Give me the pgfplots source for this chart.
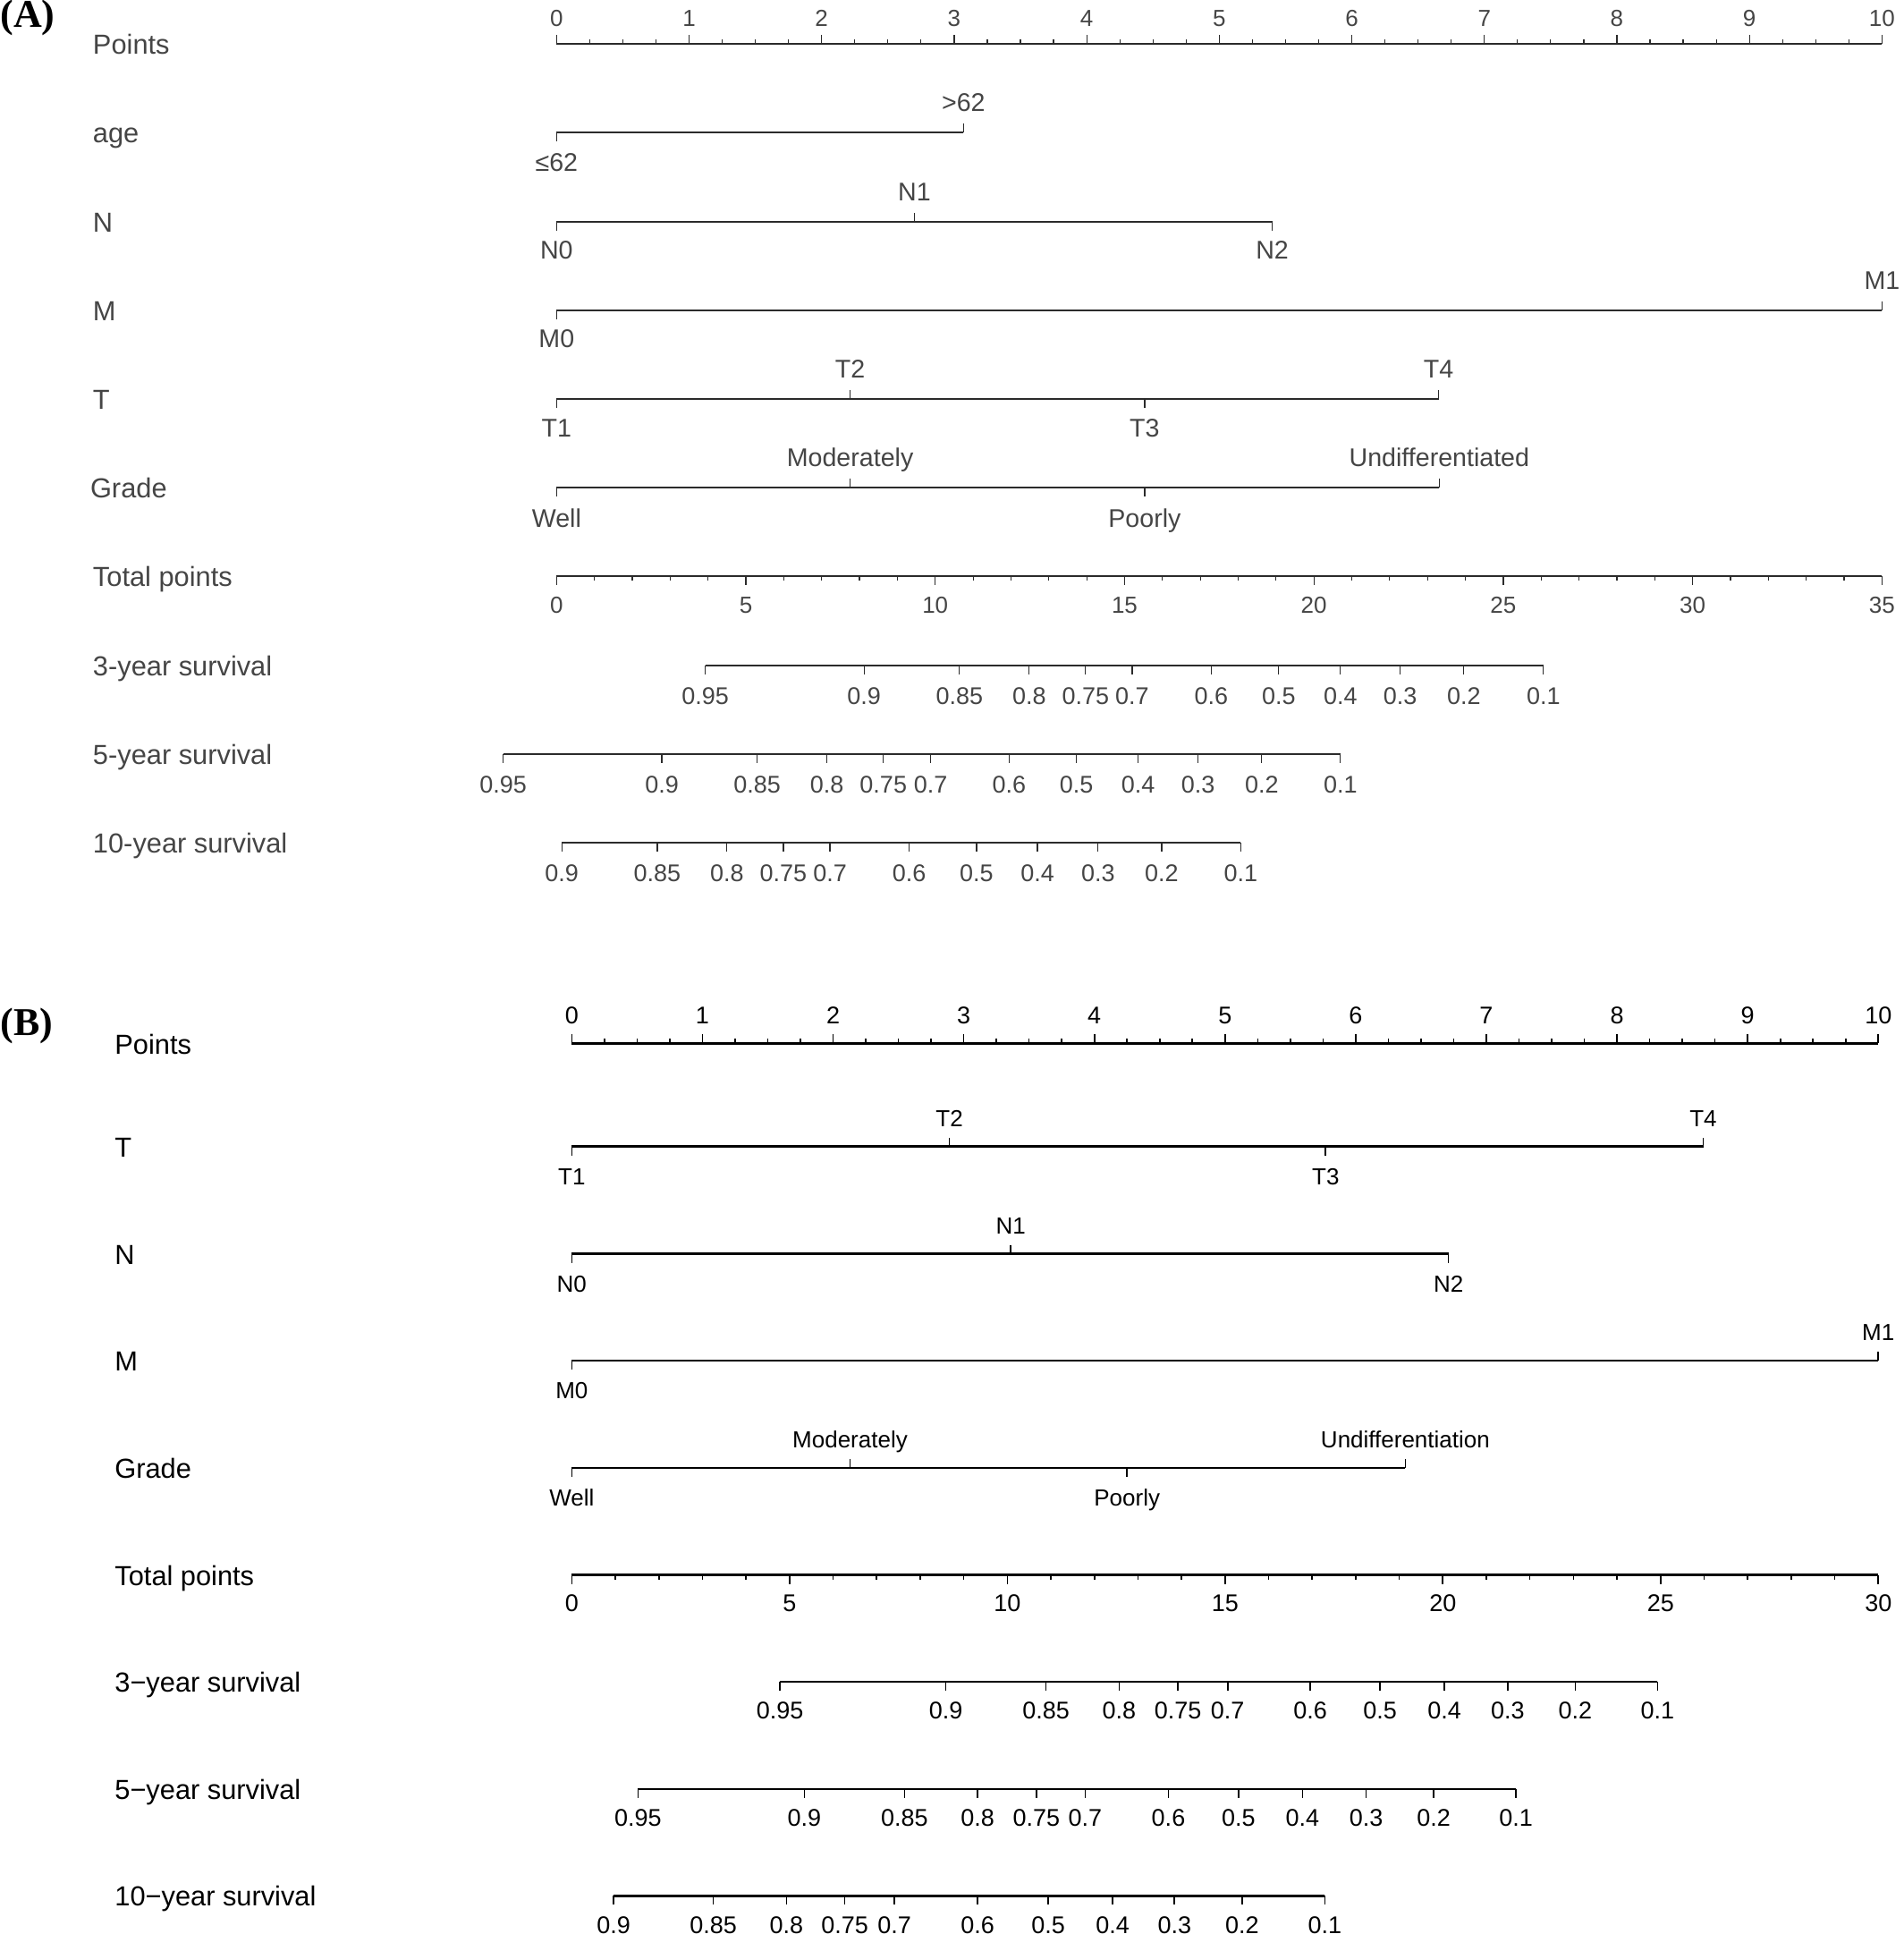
\documentclass[border=0pt]{standalone}
\usepackage{pgfplots}
\pgfplotsset{compat=1.18}
\usepackage{pgfplotstable}
\usepackage{fontspec}
\setmainfont{Liberation Sans}
\newfontfamily\serifbold{Liberation Serif}

\definecolor{atext}{HTML}{454545}
\definecolor{aline}{HTML}{2B2B2B}

% ---------- shared: minor ticks of the Points scale ----------
\pgfplotstableread{
x v
0.25 5
0.5 5
0.75 5
1.25 5
1.5 5
1.75 5
2.25 5
2.5 5
2.75 5
3.25 5
3.5 5
3.75 5
4.25 5
4.5 5
4.75 5
5.25 5
5.5 5
5.75 5
6.25 5
6.5 5
6.75 5
7.25 5
7.5 5
7.75 5
8.25 5
8.5 5
8.75 5
9.25 5
9.5 5
9.75 5
}\PtsMinor

% ---------- Panel A ----------
\pgfplotstableread{
x v dy lab
0 10 20 0
1 10 20 1
2 10 20 2
3 10 20 3
4 10 20 4
5 10 20 5
6 10 20 6
7 10 20 7
8 10 20 8
9 10 20 9
10 10 20 10
}\APts
\pgfplotstableread{
x v dy lab
0 -10 -43 ≤62
3.07 10 23.5 >62
}\AAge
\pgfplotstableread{
x v dy lab
0 -10 -42 N0
2.70 10 23.5 N1
5.40 -10 -42 N2
}\AN
\pgfplotstableread{
x v dy lab
0 -10 -42 M0
10 10 23.5 M1
}\AM
\pgfplotstableread{
x v dy lab
0 -10 -42 T1
2.215 10 23.5 T2
4.437 -10 -42 T3
6.655 10 23.5 T4
}\AT
\pgfplotstableread{
x v dy lab
0 -10 -44 Well
2.215 10 23.5 Moderately
4.437 -10 -44 Poorly
6.66 10 23.5 Undifferentiated
}\AGrade
\pgfplotstableread{
x v dy lab
0 -10 -41.5 0
5 -10 -41.5 5
10 -10 -41.5 10
15 -10 -41.5 15
20 -10 -41.5 20
25 -10 -41.5 25
30 -10 -41.5 30
35 -10 -41.5 35
}\ATot
\pgfplotstableread{
x v
1 -5
2 -5
3 -5
4 -5
6 -5
7 -5
8 -5
9 -5
11 -5
12 -5
13 -5
14 -5
16 -5
17 -5
18 -5
19 -5
21 -5
22 -5
23 -5
24 -5
26 -5
27 -5
28 -5
29 -5
31 -5
32 -5
33 -5
34 -5
}\ATotMinor
\pgfplotstableread{
x v dy lab
3.93 -10 -43.5 0.95
8.12 -10 -43.5 0.9
10.64 -10 -43.5 0.85
12.48 -10 -43.5 0.8
13.97 -10 -43.5 0.75
15.20 -10 -43.5 0.7
17.29 -10 -43.5 0.6
19.07 -10 -43.5 0.5
20.70 -10 -43.5 0.4
22.28 -10 -43.5 0.3
23.96 -10 -43.5 0.2
26.06 -10 -43.5 0.1
}\AThree
\pgfplotstableread{
x v dy lab
-1.41 -10 -43.5 0.95
2.78 -10 -43.5 0.9
5.30 -10 -43.5 0.85
7.14 -10 -43.5 0.8
8.63 -10 -43.5 0.75
9.88 -10 -43.5 0.7
11.95 -10 -43.5 0.6
13.73 -10 -43.5 0.5
15.36 -10 -43.5 0.4
16.94 -10 -43.5 0.3
18.62 -10 -43.5 0.2
20.70 -10 -43.5 0.1
}\AFive
\pgfplotstableread{
x v dy lab
0.14 -10 -43.5 0.9
2.66 -10 -43.5 0.85
4.50 -10 -43.5 0.8
5.99 -10 -43.5 0.75
7.22 -10 -43.5 0.7
9.31 -10 -43.5 0.6
11.09 -10 -43.5 0.5
12.70 -10 -43.5 0.4
14.30 -10 -43.5 0.3
15.98 -10 -43.5 0.2
18.07 -10 -43.5 0.1
}\ATen

% ---------- Panel B ----------
\pgfplotstableread{
x v dy lab
0 10 21.5 0
1 10 21.5 1
2 10 21.5 2
3 10 21.5 3
4 10 21.5 4
5 10 21.5 5
6 10 21.5 6
7 10 21.5 7
8 10 21.5 8
9 10 21.5 9
10 10 21.5 10
}\BPts
\pgfplotstableread{
x v dy lab
0 -10 -43 T1
2.89 10 22 T2
5.77 -10 -43 T3
8.66 10 22 T4
}\BT
\pgfplotstableread{
x v dy lab
0 -10 -43 N0
3.36 10 22 N1
6.71 -10 -43 N2
}\BN
\pgfplotstableread{
x v dy lab
0 -10 -43 M0
10 10 22 M1
}\BM
\pgfplotstableread{
x v dy lab
0 -10 -43 Well
2.13 10 22 Moderately
4.25 -10 -43 Poorly
6.38 10 22 Undifferentiation
}\BGrade
\pgfplotstableread{
x v dy lab
0 -10 -40.5 0
5 -10 -40.5 5
10 -10 -40.5 10
15 -10 -40.5 15
20 -10 -40.5 20
25 -10 -40.5 25
30 -10 -40.5 30
}\BTot
\pgfplotstableread{
x v
1 -5
2 -5
3 -5
4 -5
6 -5
7 -5
8 -5
9 -5
11 -5
12 -5
13 -5
14 -5
16 -5
17 -5
18 -5
19 -5
21 -5
22 -5
23 -5
24 -5
26 -5
27 -5
28 -5
29 -5
}\BTotMinor
\pgfplotstableread{
x v dy lab
4.78 -10 -42 0.95
8.59 -10 -42 0.9
10.89 -10 -42 0.85
12.57 -10 -42 0.8
13.92 -10 -42 0.75
15.06 -10 -42 0.7
16.96 -10 -42 0.6
18.56 -10 -42 0.5
20.04 -10 -42 0.4
21.49 -10 -42 0.3
23.04 -10 -42 0.2
24.93 -10 -42 0.1
}\BThree
\pgfplotstableread{
x v dy lab
1.52 -10 -42 0.95
5.34 -10 -42 0.9
7.64 -10 -42 0.85
9.32 -10 -42 0.8
10.67 -10 -42 0.75
11.79 -10 -42 0.7
13.70 -10 -42 0.6
15.31 -10 -42 0.5
16.78 -10 -42 0.4
18.24 -10 -42 0.3
19.79 -10 -42 0.2
21.68 -10 -42 0.1
}\BFive
\pgfplotstableread{
x v dy lab
0.96 -10 -42 0.9
3.25 -10 -42 0.85
4.93 -10 -42 0.8
6.27 -10 -42 0.75
7.41 -10 -42 0.7
9.32 -10 -42 0.6
10.94 -10 -42 0.5
12.42 -10 -42 0.4
13.84 -10 -42 0.3
15.39 -10 -42 0.2
17.29 -10 -42 0.1
}\BTen

% #1 table, #2 y of the line, #3 x factor, #4 line style, #5 tick style, #6 label style
\newcommand{\nrow}[6]{%
  \addplot[#4] table[x expr=\thisrow{x}*#3, y expr=#2] {#1};
  \addplot[#5, quiver={u=0, v=\thisrow{v}}] table[x expr=\thisrow{x}*#3, y expr=#2] {#1};
  \addplot[lbl, #6] table[x expr=\thisrow{x}*#3, y expr=#2+\thisrow{dy}, meta=lab] {#1};
}
\newcommand{\mrow}[4]{% minor ticks: table, y, x factor, tick style
  \addplot[#4, quiver={u=0, v=\thisrow{v}}] table[x expr=\thisrow{x}*#3, y expr=#2] {#1};
}

\pgfplotsset{
  lbl/.style={draw=none, mark=none, point meta=explicit symbolic,
    nodes near coords={\pgfplotspointmeta},
    every node near coord/.append style={anchor=base, inner sep=0pt}},
  lineA/.style={aline, line width=1pt},
  tickA/.style={aline, line width=0.6pt},
  lineB/.style={black, line width=1.3pt},
  tickB/.style={black, line width=0.8pt},
  catA/.style={every node near coord/.append style={text=atext, font=\fontsize{14.3}{16}\selectfont}},
  numA/.style={every node near coord/.append style={text=atext, font=\fontsize{13}{15}\selectfont}},
  survA/.style={every node near coord/.append style={text=atext, font=\fontsize{13.5}{15}\selectfont}},
  catB/.style={every node near coord/.append style={text=black, font=\fontsize{13}{15}\selectfont}},
  numB/.style={every node near coord/.append style={text=black, font=\fontsize{13.5}{15}\selectfont}},
  survB/.style={every node near coord/.append style={text=black, font=\fontsize{13.5}{15}\selectfont}},
  base/.style={scale only axis, width=1064pt, height=1081pt, ymin=-2162, ymax=0,
    hide axis, clip=false},
}

\begin{document}
\begin{tikzpicture}
%================ Panel A =================
\begin{axis}[base, xmin=-4.199, xmax=10.160, at={(0,0)}]
  \path (rel axis cs:0,0) rectangle (rel axis cs:1,1);
  \node[anchor=north west, inner sep=0pt, font=\serifbold\bfseries\fontsize{22}{24}\selectfont]
    at (rel axis cs:0,1) {(A)};
  \nrow{\APts}{-49.3}{1}{lineA}{tickA}{numA}
  \mrow{\PtsMinor}{-49.3}{1}{tickA}
  \nrow{\AAge}{-148.5}{1}{lineA}{tickA}{catA}
  \nrow{\AN}{-247.7}{1}{lineA}{tickA}{catA}
  \nrow{\AM}{-346.9}{1}{lineA}{tickA}{catA}
  \nrow{\AT}{-446.1}{1}{lineA}{tickA}{catA}
  \nrow{\AGrade}{-545.3}{1}{lineA}{tickA}{catA}
  \nrow{\ATot}{-644.5}{10/35}{lineA}{tickA}{numA}
  \mrow{\ATotMinor}{-644.5}{10/35}{tickA}
  \nrow{\AThree}{-743.7}{10/35}{lineA}{tickA}{survA}
  \nrow{\AFive}{-842.9}{10/35}{lineA}{tickA}{survA}
  \nrow{\ATen}{-942.1}{10/35}{lineA}{tickA}{survA}
  \begin{scope}[every node/.style={anchor=base west, inner sep=0pt, text=atext, font=\fontsize{15.4}{18}\selectfont}]
    \node at (axis cs:-3.5,-60.8) {Points};
    \node at (axis cs:-3.5,-160) {age};
    \node at (axis cs:-3.5,-259.2) {N};
    \node at (axis cs:-3.5,-358.4) {M};
    \node at (axis cs:-3.5,-457.6) {T};
    \node at (axis cs:-3.52,-556.8) {Grade};
    \node at (axis cs:-3.5,-656) {Total points};
    \node at (axis cs:-3.5,-755.2) {3-year survival};
    \node at (axis cs:-3.5,-854.4) {5-year survival};
    \node at (axis cs:-3.5,-953.6) {10-year survival};
  \end{scope}
\end{axis}
%================ Panel B =================
\begin{axis}[base, xmin=-4.376, xmax=10.190, at={(0,0)}]
  \node[anchor=north west, inner sep=0pt, font=\serifbold\bfseries\fontsize{22}{24}\selectfont]
    at (axis cs:-4.376,-1127) {(B)};
  \nrow{\BPts}{-1166.5}{1}{lineB}{tickB}{numB}
  \mrow{\PtsMinor}{-1166.5}{1}{tickB}
  \nrow{\BT}{-1281.7}{1}{lineB}{tickB}{catB}
  \nrow{\BN}{-1401.7}{1}{lineB}{tickB}{catB}
  \nrow{\BM}{-1521}{1}{lineB}{tickB}{catB}
  \nrow{\BGrade}{-1641}{1}{lineB}{tickB}{catB}
  \nrow{\BTot}{-1760.7}{10/30}{lineB}{tickB}{numB}
  \mrow{\BTotMinor}{-1760.7}{10/30}{tickB}
  \nrow{\BThree}{-1880}{10/30}{lineB}{tickB}{survB}
  \nrow{\BFive}{-2000}{10/30}{lineB}{tickB}{survB}
  \nrow{\BTen}{-2119.3}{10/30}{lineB}{tickB}{survB}
  \begin{scope}[every node/.style={anchor=base west, inner sep=0pt, text=black, font=\fontsize{15.4}{18}\selectfont}]
    \node at (axis cs:-3.5,-1178.5) {Points};
    \node at (axis cs:-3.5,-1293.3) {T};
    \node at (axis cs:-3.5,-1413.3) {N};
    \node at (axis cs:-3.5,-1532.6) {M};
    \node at (axis cs:-3.5,-1652.6) {Grade};
    \node at (axis cs:-3.5,-1772.3) {Total points};
    \node at (axis cs:-3.5,-1891.6) {3−year survival};
    \node at (axis cs:-3.5,-2011.6) {5−year survival};
    \node at (axis cs:-3.5,-2130.9) {10−year survival};
  \end{scope}
\end{axis}
\end{tikzpicture}
\end{document}
